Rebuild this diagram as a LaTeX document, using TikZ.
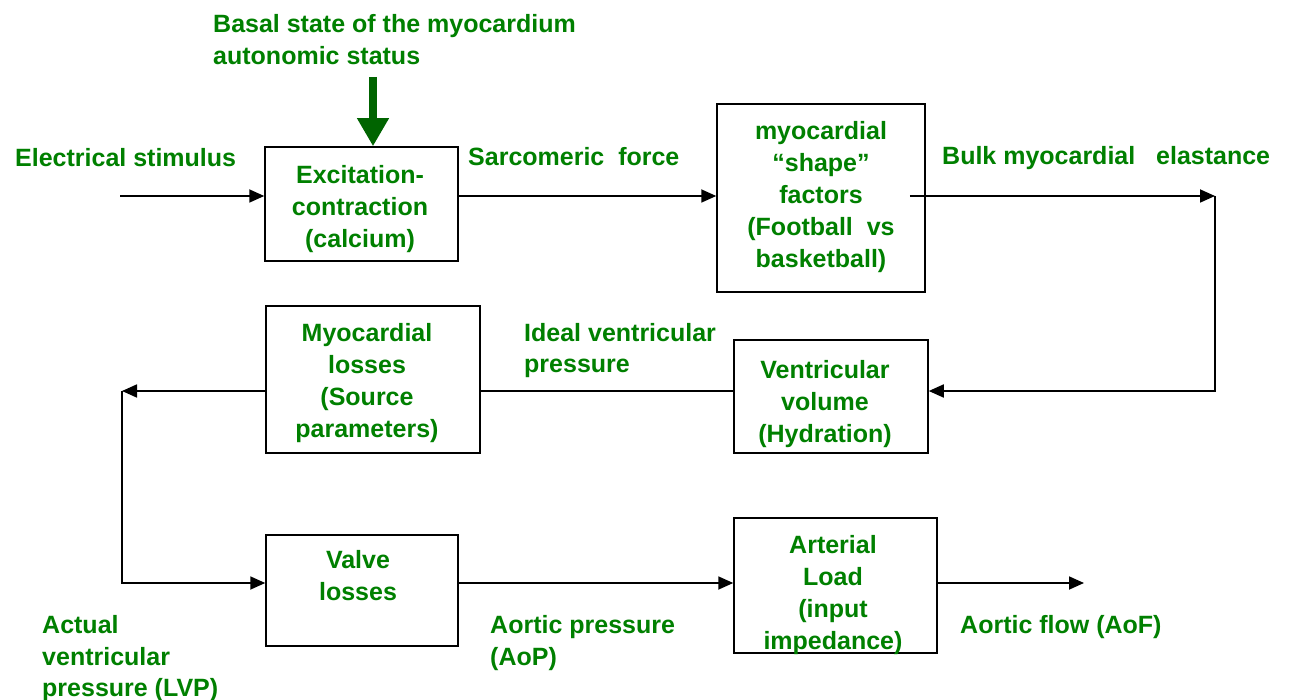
\documentclass[tikz,border=0pt]{standalone}
\usepackage{fontspec}
\setmainfont{Liberation Sans}
\usetikzlibrary{arrows.meta,calc}
\definecolor{txtgreen}{RGB}{0,128,0}
\definecolor{arrgreen}{RGB}{0,100,0}
\begin{document}
\begin{tikzpicture}[x=1pt,y=-1pt,
  lbl/.style={anchor=base west, inner sep=0pt, text=txtgreen, font=\bfseries\fontsize{25}{32}\selectfont},
  boxtxt/.style={anchor=north, inner sep=0pt, text=txtgreen, align=center, font=\bfseries\fontsize{25}{32}\selectfont},
  box/.style={draw=black, line width=1.5pt, inner sep=0pt, fill=none},
  conn/.style={draw=black, line width=1.8pt},
  arr/.style={conn, -{Triangle[length=15pt,width=13pt]}},
  bigarr/.style={draw=arrgreen, line width=8pt, -{Triangle[length=28pt,width=30pt]}}
]
\fill[white] (0,0) rectangle (1290,700);
\useasboundingbox (0,0) rectangle (1290,700);

% boxes
\node[box, minimum width=193pt, minimum height=114pt] (exc) at (361.5,204) {};
\node[box, minimum width=208pt, minimum height=188pt] (shape) at (821,198) {};
\node[box, minimum width=214pt, minimum height=147pt] (loss) at (373,379.5) {};
\node[box, minimum width=194pt, minimum height=113pt] (vol) at (831,396.5) {};
\node[box, minimum width=192pt, minimum height=111pt] (valve) at (362,590.5) {};
\node[box, minimum width=203pt, minimum height=135pt] (art) at (835.5,585.5) {};

% box texts
\node[boxtxt] (exct) at (360,164) {\rule{0pt}{19pt}Excitation-\\contraction\\(calcium)};
\node[boxtxt] (shapet) at (821,120) {\rule{0pt}{19pt}myocardial\\“shape”\\factors\\(Football\ \ vs\\basketball)};
\node[boxtxt] (losst) at (367,322) {\rule{0pt}{19pt}Myocardial\\losses\\(Source\\parameters)};
\node[boxtxt] (volt) at (825,359) {\rule{0pt}{19pt}Ventricular\\volume\\(Hydration)};
\node[boxtxt] (valvet) at (358,549) {\rule{0pt}{19pt}Valve\\losses};
\node[boxtxt] (artt) at (833,534) {\rule{0pt}{19pt}Arterial\\Load\\(input\\impedance)};

% free labels
\node[lbl] (b1) at (213,33) {Basal state of the myocardium};
\node[lbl] (b2) at (213,65) {autonomic status};
\node[lbl] (elec) at (15,167) {Electrical stimulus};
\node[lbl] (sarc) at (468,166) {Sarcomeric\ \ force};
\node[lbl] (bulk) at (942,165) {Bulk myocardial\ \ \ elastance};
\node[lbl] (ideal1) at (524,342) {Ideal ventricular};
\node[lbl] (ideal2) at (524,373) {pressure};
\node[lbl] (act1) at (42,633) {Actual};
\node[lbl] (act2) at (42,665) {ventricular};
\node[lbl] (act3) at (42,696) {pressure (LVP)};
\node[lbl] (aop1) at (490,633) {Aortic pressure};
\node[lbl] (aop2) at (490,665) {(AoP)};
\node[lbl] (aof) at (960,633) {Aortic flow (AoF)};

% green input arrow
\coordinate (gtop) at (373,77);
\draw[bigarr] (gtop) -- (gtop |- exc.north);

% connectors
\coordinate (ein) at (120,196);
\coordinate (c1) at (1215,196);
\coordinate (c2) at (1215,391);
\coordinate (c3) at (122,391);
\coordinate (c4) at (122,583);
\coordinate (aout) at (1084,583);

\draw[arr] (ein) -- (ein -| exc.west);
\draw[arr] (exc.east |- ein) -- (shape.west |- ein);
\draw[arr] ($(shape.east |- ein)+(-16,0)$) -- (c1);
\draw[arr] (c1) -- (c2) -- (c2 -| vol.east);
\draw[conn] (vol.west |- c2) -- (loss.east |- c2);
\draw[arr] (loss.west |- c2) -- (c3);
\draw[arr] (c3) -- (c4) -- (c4 -| valve.west);
\draw[arr] (valve.east |- c4) -- (art.west |- c4);
\draw[arr] (art.east |- c4) -- (aout);
\end{tikzpicture}
\end{document}
